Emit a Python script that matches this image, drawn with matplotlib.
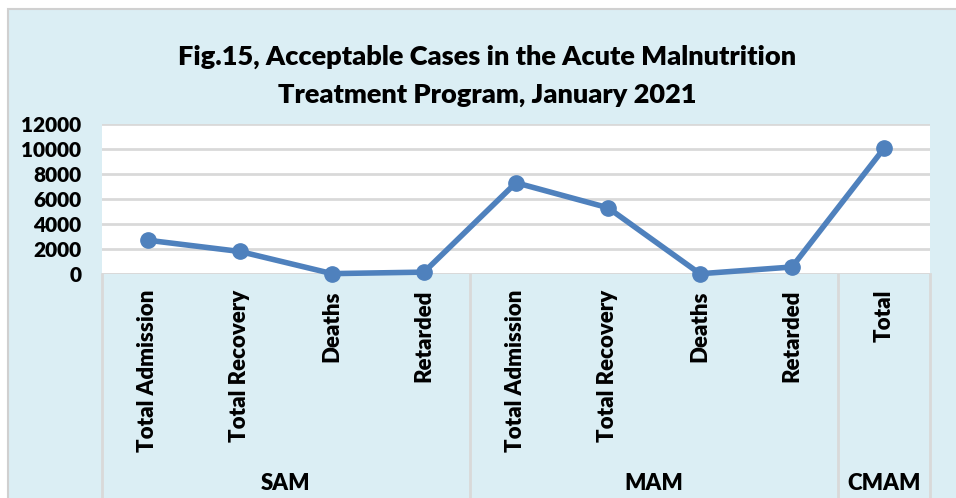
import matplotlib
matplotlib.use("Agg")
import matplotlib.pyplot as plt
from matplotlib.patches import Rectangle
import matplotlib.transforms as mtransforms

categories = ["Total Admission", "Total Recovery", "Deaths", "Retarded",
              "Total Admission", "Total Recovery", "Deaths", "Retarded", "Total"]
groups = ["SAM", "MAM", "CMAM"]
group_sizes = [4, 4, 1]
values = [2700, 1800, 30, 150, 7300, 5300, 20, 560, 10050]
yticks = [0, 2000, 4000, 6000, 8000, 10000, 12000]

W, H = 956, 498
BG = "#DBEEF4"
GRID = "#D9D9D9"
LINE = "#4F81BD"
FONT = "Lato"
WEIGHT = "heavy"

fig = plt.figure(figsize=(W / 100, H / 100), dpi=100, facecolor="white")
fig.patches.append(Rectangle((8 / W, -0.1), 1.2, (1 - 9 / H) + 0.1, transform=fig.transFigure,
                             facecolor=BG, edgecolor="#D0D0D0", linewidth=1.5, zorder=-10))

left, right, top, bottom = 102, 930, 124, 274
ax = fig.add_axes([left / W, 1 - bottom / H, (right - left) / W, (bottom - top) / H])
ax.set_facecolor("white")
x = list(range(len(categories)))
ax.plot(x, values, color=LINE, linewidth=4, marker="o", markersize=11, zorder=5,
        solid_capstyle="round", clip_on=False)
ax.set_xlim(-0.5, len(categories) - 0.5)
ax.set_ylim(0, 12000)
ax.set_yticks(yticks)
ax.set_yticklabels([str(v) for v in yticks], fontfamily=FONT, fontweight=WEIGHT, fontsize=15)
ax.tick_params(axis="y", length=0, pad=15)
ax.set_xticks([])
for s in ax.spines.values():
    s.set_visible(False)
ax.grid(axis="y", color=GRID, linewidth=2)
ax.set_axisbelow(True)
ax.axhline(0, color=GRID, linewidth=2, zorder=1)

trans = mtransforms.blended_transform_factory(ax.transData, ax.transAxes)
ax_h = bottom - top
depth = (H - bottom + 5) / ax_h
for i, c in enumerate(categories):
    ax.text(i, -16 / ax_h, c, rotation=90, ha="center", va="top", transform=trans,
            fontfamily=FONT, fontweight=WEIGHT, fontsize=16, clip_on=False)

bounds = [-0.5]
pos = -0.5
for gsz in group_sizes:
    pos += gsz
    bounds.append(pos)
for b in bounds:
    ax.plot([b, b], [0, -depth], color=GRID, linewidth=2, transform=trans, clip_on=False)
for gi, g in enumerate(groups):
    cx = (bounds[gi] + bounds[gi + 1]) / 2
    ax.text(cx, -(483 - bottom) / ax_h, g, ha="center", va="center", transform=trans,
            fontfamily=FONT, fontweight=WEIGHT, fontsize=16, clip_on=False)

fig.text(487 / W, 1 - 57 / H, "Fig.15, Acceptable Cases in the Acute Malnutrition",
         ha="center", va="center", fontfamily=FONT, fontweight=WEIGHT, fontsize=19.5)
fig.text(487 / W, 1 - 95 / H, "Treatment Program, January 2021",
         ha="center", va="center", fontfamily=FONT, fontweight=WEIGHT, fontsize=19.5)

fig.savefig("out.png", dpi=100, facecolor="white")
